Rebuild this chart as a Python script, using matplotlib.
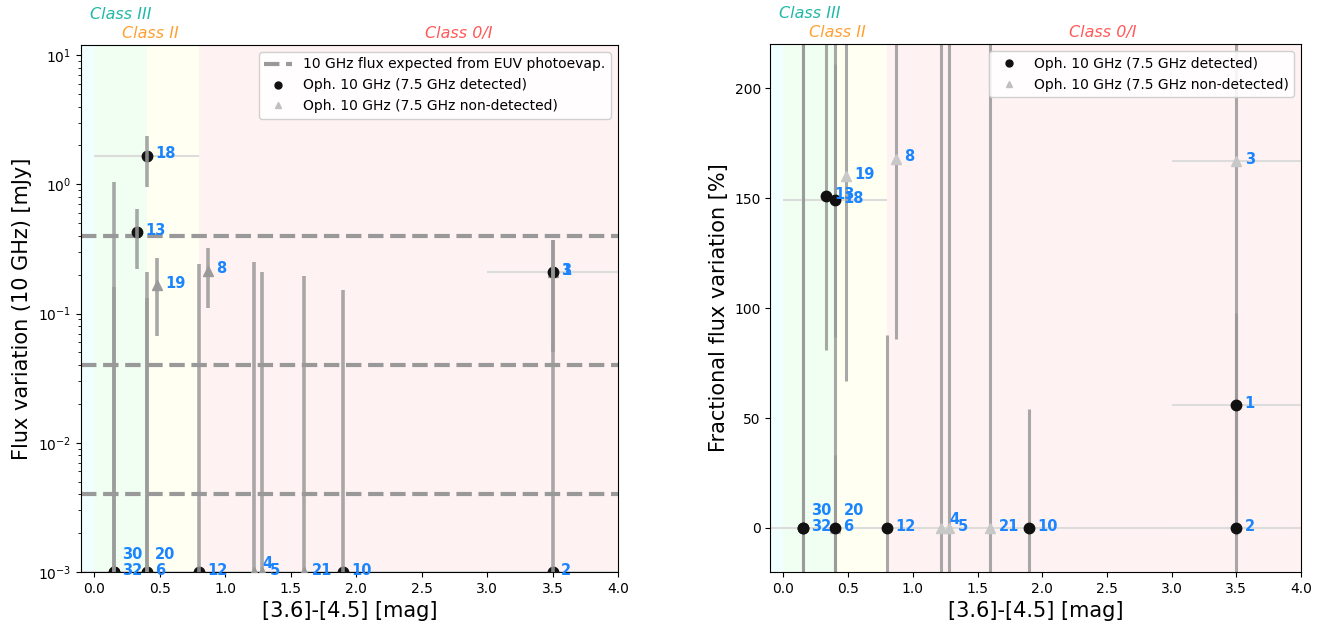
"""Oph. 10 GHz variability vs. IRAC [3.6]-[4.5] colour: absolute and fractional."""

import matplotlib
matplotlib.use("Agg")
import matplotlib.pyplot as plt
from matplotlib.lines import Line2D
from matplotlib.transforms import blended_transform_factory
import numpy as np

# ---------------------------------------------------------------------------
# Data
# ---------------------------------------------------------------------------
SOURCE_IDS = ["13", "18", "19", "8", "3", "1", "2", "30", "32", "6", "20", "12", "4", "5", "21", "10"]
IRAC_COLOR = [0.33, 0.40, 0.48, 0.87, 3.50, 3.50, 3.50, 0.15, 0.15, 0.40, 0.40, 0.80, 1.22, 1.28, 1.60, 1.90]
IRAC_COLOR_ERR = [0.0, 0.40, 0.0, 0.0, 0.50, 0.50, 0.50, 0.0, 0.0, 0.0, 0.0, 0.0, 0.0, 0.0, 0.0, 2.00]
DETECTED_75GHZ = [True, True, False, False, False, True, True, True, True, True, False, True, False, False, False, True]

# flux variation at 10 GHz [mJy]; 1e-3 = no variation (plotted on the lower axis edge)
FLUX_VAR = [0.43, 1.67, 0.167, 0.215, 0.21, 0.21, 1e-3, 1e-3, 1e-3, 1e-3, 1e-3, 1e-3, 1e-3, 1e-3, 1e-3, 1e-3]
FLUX_VAR_ERR = [0.21, 0.71, 0.10, 0.105, 0.16, 0.16, 0.05, 0.16, 1.05, 0.21, 0.13, 0.24, 0.25, 0.21, 0.195, 0.15]

# fractional flux variation [%]
FRAC_VAR = [151, 149, 160, 168, 167, 56, 0, 0, 0, 0, 0, 0, 0, 0, 0, 0]
FRAC_VAR_ERR = [70, 62, 93, 82, 170, 42, 60, 240, 250, 250, 33, 88, 250, 250, 250, 54]

EUV_FLUX_LEVELS = [0.4, 0.04, 0.004]

CLASS_BANDS = [(-0.1, 0.0), (0.0, 0.4), (0.4, 0.8), (0.8, 4.0)]
CLASS_NAMES = ["Class III", "Class II", "Class 0/I"]

# ---------------------------------------------------------------------------
# Style
# ---------------------------------------------------------------------------
BAND_COLORS = ["#f0ffff", "#f0fff2", "#fffff2", "#fff2f2"]
CLASS_COLORS = ["#20b8a8", "#ffa030", "#ff5a5a"]
LABEL_COLOR = "#1a85ff"
BAR_COLOR = "#999999"
XBAR_COLOR = "#dcdcdc"
DET_COLOR = "#111111"
LABEL_LIFT = {"30": 11, "20": 11, "4": 5}  # extra upward offset (pt) to avoid overlap

plt.rcParams.update({"font.size": 10})

color = np.array(IRAC_COLOR)
color_err = np.array(IRAC_COLOR_ERR)
det = np.array(DETECTED_75GHZ)

fig = plt.figure(figsize=(13.33, 6.26), dpi=100)
ax1 = fig.add_axes([0.0608, 0.0863, 0.4029, 0.8419])
ax2 = fig.add_axes([0.5780, 0.0863, 0.3980, 0.8430])


def shade_classes(ax, class_x):
    for (lo, hi), c in zip(CLASS_BANDS, BAND_COLORS):
        ax.axvspan(lo, hi, color=c, zorder=0, lw=0)
    trans = blended_transform_factory(ax.transData, ax.transAxes)
    ys = [1.058, 1.022, 1.022]
    for name, c, x, y in zip(CLASS_NAMES, CLASS_COLORS, class_x, ys):
        ax.text(x, y, name, color=c, style="italic", fontsize=11.5,
                ha="center", va="center", transform=trans)


def draw_points(ax, y, yerr, tri_color, bars_on_top, bar_lw):
    y = np.array(y, dtype=float)
    yerr = np.array(yerr, dtype=float)
    zbar = 5 if bars_on_top else 2
    ax.errorbar(color, y, xerr=color_err, fmt="none", ecolor=XBAR_COLOR, elinewidth=1.5, zorder=1.5)
    ax.errorbar(color, y, yerr=yerr, fmt="none", ecolor=BAR_COLOR, elinewidth=bar_lw,
                alpha=0.85, zorder=zbar)
    ax.plot(color[~det], y[~det], "^", color=tri_color, ms=7.5, ls="none", zorder=3)
    ax.plot(color[det], y[det], "o", color=DET_COLOR, ms=7.5, ls="none", zorder=4)
    for sid, xv, yv in zip(SOURCE_IDS, color, y):
        ax.annotate(sid, (xv, yv), xytext=(6, -2 + LABEL_LIFT.get(sid, 0)),
                    textcoords="offset points", color=LABEL_COLOR, fontweight="bold",
                    fontsize=10.5, ha="left", va="baseline", zorder=6)


# --- panel A: absolute flux variation --------------------------------------
shade_classes(ax1, [0.2, 0.43, 2.78])
for lvl in EUV_FLUX_LEVELS:
    ax1.axhline(lvl, color=BAR_COLOR, lw=3, ls="--", zorder=1)
draw_points(ax1, FLUX_VAR, FLUX_VAR_ERR, "#9c9c9c", True, 2.6)
ax1.set_yscale("log")
ax1.set_ylim(1e-3, 12)
ax1.set_xlim(-0.1, 4.0)
ax1.set_xlabel("[3.6]-[4.5] [mag]", fontsize=15)
ax1.set_ylabel("Flux variation (10 GHz) [mJy]", fontsize=15)
handles1 = [
    Line2D([], [], color=BAR_COLOR, lw=3, ls="--"),
    Line2D([], [], marker="o", color=DET_COLOR, ls="none", ms=5),
    Line2D([], [], marker="^", color="#c0c0c0", ls="none", ms=5),
]
ax1.legend(handles1, ["10 GHz flux expected from EUV photoevap.",
                      "Oph. 10 GHz (7.5 GHz detected)",
                      "Oph. 10 GHz (7.5 GHz non-detected)"],
           loc="upper right", fontsize=10, framealpha=0.9)

# --- panel B: fractional flux variation ------------------------------------
shade_classes(ax2, [0.2, 0.42, 2.47])
draw_points(ax2, FRAC_VAR, FRAC_VAR_ERR, "#c8c8c8", False, 2.2)
ax2.set_ylim(-20, 220)
ax2.set_xlim(-0.1, 4.0)
ax2.set_xlabel("[3.6]-[4.5] [mag]", fontsize=15)
ax2.set_ylabel("Fractional flux variation [%]", fontsize=15)
handles2 = handles1[1:]
ax2.legend(handles2, ["Oph. 10 GHz (7.5 GHz detected)",
                      "Oph. 10 GHz (7.5 GHz non-detected)"],
           loc="upper right", fontsize=10, framealpha=0.9)

for ax in (ax1, ax2):
    ax.tick_params(labelsize=10)

fig.savefig("out.png", dpi=100)
